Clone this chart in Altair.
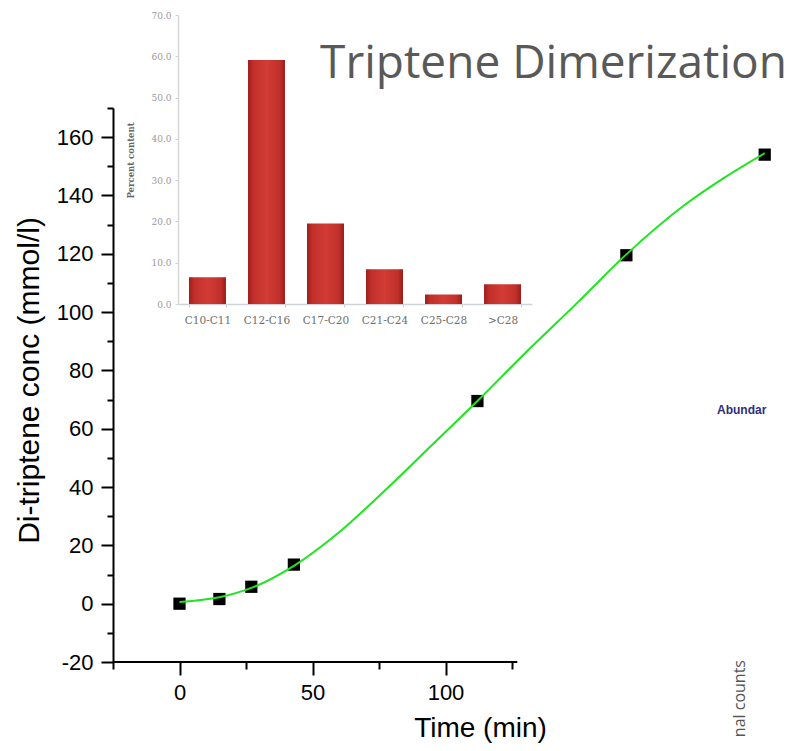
import altair as alt
import pandas as pd

# ---- data ----
time_min = [0, 15, 27, 43, 112, 168, 220]
conc = [0, 1.6, 5.8, 13.4, 69.5, 119.5, 154]

fit_time = [0, 15, 27, 43, 60, 78, 95, 112, 130, 150, 168, 190, 205, 220]
fit_conc = [0.6, 2.2, 5.4, 13, 24.5, 39.5, 54.5, 69.5, 86, 103.6, 119.8, 136.8, 146.2, 154.5]

categories = ["C10-C11", "C12-C16", "C17-C20", "C21-C24", "C25-C28", ">C28"]
percent = [6.5, 59.1, 19.5, 8.4, 2.3, 4.8]

TITLE = "Triptene Dimerization"
X_TITLE = "Time (min)"
Y_TITLE = "Di-triptene conc (mmol/l)"
INSET_Y_TITLE = "Percent content"

pts = pd.DataFrame({"t": time_min, "c": conc})
fit = pd.DataFrame({"t": fit_time, "c": fit_conc})
bars = pd.DataFrame({"cat": categories, "pct": percent})

FONT = "Liberation Sans"

xs = alt.Scale(domain=[-25, 225], nice=False, zero=False)
ys = alt.Scale(domain=[-20, 170], nice=False, zero=False)

x_axis = alt.Axis(
    orient="bottom",
    values=[-25, 0, 25, 50, 75, 100, 125],
    labelExpr="datum.value % 50 === 0 ? '' + datum.value : ''",
    tickSize={"condition": {"test": "datum.value % 50 === 0", "value": 13}, "value": 7},
    domain=False, grid=False,
    tickColor="black", tickWidth=2,
    labelFont=FONT, labelFontSize=22, labelColor="black", labelPadding=7,
    labelFlush=False, labelOverlap=False,
    title=X_TITLE, titleFont=FONT, titleFontSize=28, titleFontWeight="normal",
    titleColor="black", titleX=367, titleY=74, titleAlign="center",
    titleBaseline="alphabetic",
)
y_axis = alt.Axis(
    orient="left",
    values=list(range(-20, 171, 10)),
    labelExpr="datum.value % 20 === 0 ? '' + datum.value : ''",
    tickSize={"condition": {"test": "datum.value % 20 === 0", "value": 12}, "value": 6},
    domain=True, domainColor="black", domainWidth=2, grid=False,
    tickColor="black", tickWidth=2,
    labelFont=FONT, labelFontSize=22, labelColor="black", labelPadding=8,
    labelFlush=False, labelOverlap=False,
    title=Y_TITLE, titleFont=FONT, titleFontSize=30, titleFontWeight="normal",
    titleColor="black", titleX=-84, titleY=272, titleAngle=270,
    titleAlign="center", titleBaseline="middle",
)

x_enc = alt.X("t:Q", scale=xs, axis=x_axis)
y_enc = alt.Y("c:Q", scale=ys, axis=y_axis)

axis_line = alt.Chart(pd.DataFrame({"k": [0]})).mark_rule(color="black", strokeWidth=2).encode(
    x=alt.X(datum=-25, type="quantitative", scale=xs, axis=x_axis),
    x2=alt.datum(127),
    y=alt.Y(datum=-20, type="quantitative", scale=ys, axis=y_axis),
)

points = alt.Chart(pts).mark_square(size=150, color="black", opacity=1).encode(x=x_enc, y=y_enc)
curve = alt.Chart(fit).mark_line(color="#1ee61e", strokeWidth=2, interpolate="monotone").encode(
    x=x_enc, y=y_enc
)

title_txt = alt.Chart(pd.DataFrame({"s": [TITLE]})).mark_text(
    font="Open Sans", fontSize=46, color="#595959", align="right", baseline="alphabetic"
).encode(text="s:N", x=alt.value(674), y=alt.value(-30))

abund_txt = alt.Chart(pd.DataFrame({"s": ["Abundar"]})).mark_text(
    font="Liberation Sans", fontSize=12, fontWeight="bold", color="#2e2e80",
    align="left", baseline="alphabetic"
).encode(text="s:N", x=alt.value(604), y=alt.value(306))

counts_txt = alt.Chart(pd.DataFrame({"s": ["nal counts"]})).mark_text(
    font="Open Sans", fontSize=16, color="#555555", align="right", baseline="middle", angle=270
).encode(text="s:N", x=alt.value(627), y=alt.value(552))

main = alt.layer(axis_line, points, curve, title_txt, abund_txt, counts_txt)

bar_grad = alt.Gradient(
    gradient="linear",
    stops=[
        alt.GradientStop(color="#9e1f1c", offset=0),
        alt.GradientStop(color="#c2302b", offset=0.15),
        alt.GradientStop(color="#d33b35", offset=0.5),
        alt.GradientStop(color="#c2302b", offset=0.85),
        alt.GradientStop(color="#9a1d1a", offset=1),
    ],
    x1=0, x2=1, y1=0, y2=0,
)

inset = alt.Chart(bars).mark_bar(color=bar_grad).encode(
    x=alt.X(
        "cat:N", sort=categories,
        scale=alt.Scale(range=[65, 419], paddingInner=0.373, paddingOuter=0.186),
        axis=alt.Axis(
            orient="bottom", offset=-358, title=None, labelAngle=0,
            labelFont="DejaVu Serif", labelFontSize=10.5, labelColor="#6e6e6e", labelPadding=8,
            tickBand="extent", tickSize=3, tickColor="#cfcfcf", domainColor="#cfd4da",
            domainWidth=1.5, grid=False,
        ),
    ),
    y=alt.Y(
        "pct:Q",
        scale=alt.Scale(domain=[0, 70], range=[196, -93], nice=False, zero=True),
        axis=alt.Axis(
            orient="left", offset=-65, values=[0, 10, 20, 30, 40, 50, 60, 70], format=".1f",
            labelFont="DejaVu Serif", labelFontSize=9, labelColor="#999999", labelPadding=4,
            tickSize=3, tickColor="#d0d0d0", domainColor="#d8d8d8", domainWidth=1.5, grid=False,
            title=INSET_Y_TITLE, titleFont="DejaVu Serif", titleFontSize=8.5, titleFontWeight="bold",
            titleColor="#666666", titleX=-48, titleY=52, titleAngle=270,
            titleAlign="center", titleBaseline="middle",
        ),
    ),
)

chart = (
    alt.layer(inset, main)
    .resolve_scale(x="independent", y="independent")
    .properties(
        width=665, height=554,
        autosize=alt.AutoSizeParams(type="none"),
        padding={"left": 105, "top": 100, "right": 9, "bottom": 81},
    )
    .configure_view(stroke=None)
)

chart.save("out.html", embed_options={"renderer": "svg", "actions": False})
